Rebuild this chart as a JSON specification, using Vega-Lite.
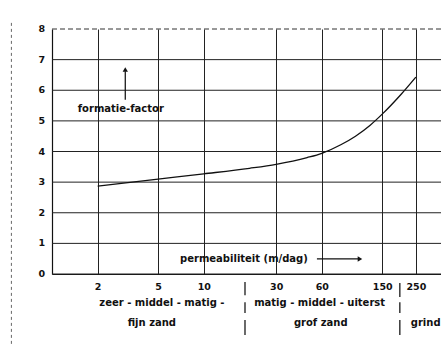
{
  "$schema": "https://vega.github.io/schema/vega-lite/v6.json",
  "autosize": "none",
  "width": 389,
  "height": 245,
  "padding": {"left": 52, "top": 29, "right": 0, "bottom": 72},
  "background": "white",
  "config": {
    "view": {"stroke": null},
    "font": "DejaVu Sans",
    "text": {"font": "DejaVu Sans", "fontWeight": "bold", "fontSize": 10, "color": "#111"}
  },
  "datasets": {
    "curve": [
      {"k": 2, "f": 2.87},
      {"k": 5, "f": 3.10},
      {"k": 10, "f": 3.27},
      {"k": 20, "f": 3.45},
      {"k": 30, "f": 3.58},
      {"k": 48, "f": 3.80},
      {"k": 60, "f": 3.94},
      {"k": 80, "f": 4.22},
      {"k": 100, "f": 4.50},
      {"k": 125, "f": 4.86},
      {"k": 150, "f": 5.22},
      {"k": 200, "f": 5.87},
      {"k": 250, "f": 6.43}
    ],
    "yticks": [
      {"f": 0}, {"f": 1}, {"f": 2}, {"f": 3}, {"f": 4},
      {"f": 5}, {"f": 6}, {"f": 7}
    ],
    "ytop": [{"f": 8}],
    "ylabels": [
      {"f": 0, "t": "0"}, {"f": 1, "t": "1"}, {"f": 2, "t": "2"}, {"f": 3, "t": "3"},
      {"f": 4, "t": "4"}, {"f": 5, "t": "5"}, {"f": 6, "t": "6"}, {"f": 7, "t": "7"},
      {"f": 8, "t": "8"}
    ],
    "labels": [
      {"k": 2.84, "f": 5.40, "t": "formatie-factor"},
      {"k": 18.4, "f": 0.49, "t": "permeabiliteit (m/dag)"},
      {"k": 5.3, "f": -0.95, "t": "zeer - middel - matig -"},
      {"k": 4.55, "f": -1.6, "t": "fijn   zand"},
      {"k": 58, "f": -0.95, "t": "matig - middel - uiterst"},
      {"k": 59, "f": -1.6, "t": "grof   zand"},
      {"k": 290, "f": -1.6, "t": "grind"}
    ],
    "segs": [
      {"k": 3.04, "k2": 3.04, "f": 5.69, "f2": 6.62},
      {"k": 55.7, "k2": 104, "f": 0.49, "f2": 0.49},
      {"k": 18.7, "k2": 18.7, "f": -0.26, "f2": -0.69},
      {"k": 18.7, "k2": 18.7, "f": -0.92, "f2": -1.27},
      {"k": 18.7, "k2": 18.7, "f": -1.50, "f2": -1.99},
      {"k": 196, "k2": 196, "f": -0.29, "f2": -0.75},
      {"k": 196, "k2": 196, "f": -0.92, "f2": -1.27},
      {"k": 196, "k2": 196, "f": -1.50, "f2": -1.99}
    ],
    "heads": [
      {"k": 3.04, "f": 6.68, "s": "triangle-up"},
      {"k": 107, "f": 0.49, "s": "triangle-right"}
    ],
    "border": [
      {"k": 0.54, "f": 8.2, "f2": -2.4}
    ]
  },
  "layer": [
    {
      "data": {"name": "yticks"},
      "mark": {"type": "rule", "color": "#222", "strokeWidth": 1},
      "encoding": {
        "y": {
          "field": "f", "type": "quantitative",
          "scale": {"domain": [0, 8], "nice": false, "zero": false},
          "axis": {
            "title": null, "grid": false, "labels": false, "ticks": false,
            "domain": true, "domainColor": "#111", "domainWidth": 1.2
          }
        }
      }
    },
    {
      "data": {"name": "ytop"},
      "mark": {"type": "rule", "color": "#333", "strokeWidth": 1, "strokeDash": [5, 3]},
      "encoding": {
        "y": {"field": "f", "type": "quantitative"}
      }
    },
    {
      "data": {"name": "curve"},
      "mark": {"type": "line", "interpolate": "monotone", "color": "#111", "strokeWidth": 1.3},
      "encoding": {
        "x": {
          "field": "k", "type": "quantitative",
          "scale": {"type": "log", "domain": [1, 366], "nice": false},
          "axis": {
            "title": null, "values": [2, 5, 10, 30, 60, 150, 250], "format": "d",
            "grid": true, "gridColor": "#222", "gridWidth": 1, "gridOpacity": 1,
            "ticks": false, "domain": true, "domainColor": "#111", "domainWidth": 1.2,
            "labelFont": "DejaVu Sans", "labelFontWeight": "bold", "labelFontSize": 9.5,
            "labelColor": "#111", "labelPadding": 7, "labelFlush": false, "labelOverlap": false
          }
        },
        "y": {"field": "f", "type": "quantitative"}
      }
    },
    {
      "data": {"name": "ylabels"},
      "mark": {"type": "text", "align": "right", "baseline": "middle", "fontSize": 9.5, "fontWeight": "bold"},
      "encoding": {
        "x": {"datum": 0.9, "type": "quantitative"},
        "y": {"field": "f", "type": "quantitative"},
        "text": {"field": "t"}
      }
    },
    {
      "data": {"name": "border"},
      "mark": {"type": "rule", "color": "#666", "strokeWidth": 1, "strokeDash": [3, 3]},
      "encoding": {
        "x": {"field": "k", "type": "quantitative"},
        "y": {"field": "f", "type": "quantitative"},
        "y2": {"field": "f2"}
      }
    },
    {
      "data": {"name": "segs"},
      "mark": {"type": "rule", "color": "#111", "strokeWidth": 1.25},
      "encoding": {
        "x": {"field": "k", "type": "quantitative"},
        "x2": {"field": "k2"},
        "y": {"field": "f", "type": "quantitative"},
        "y2": {"field": "f2"}
      }
    },
    {
      "data": {"name": "heads"},
      "mark": {"type": "point", "filled": true, "color": "#111", "size": 28, "opacity": 1},
      "encoding": {
        "x": {"field": "k", "type": "quantitative"},
        "y": {"field": "f", "type": "quantitative"},
        "shape": {"field": "s", "type": "nominal", "scale": null, "legend": null}
      }
    },
    {
      "data": {"name": "labels"},
      "mark": {"type": "text", "baseline": "middle", "align": "center"},
      "encoding": {
        "x": {"field": "k", "type": "quantitative"},
        "y": {"field": "f", "type": "quantitative"},
        "text": {"field": "t"}
      }
    }
  ]
}
